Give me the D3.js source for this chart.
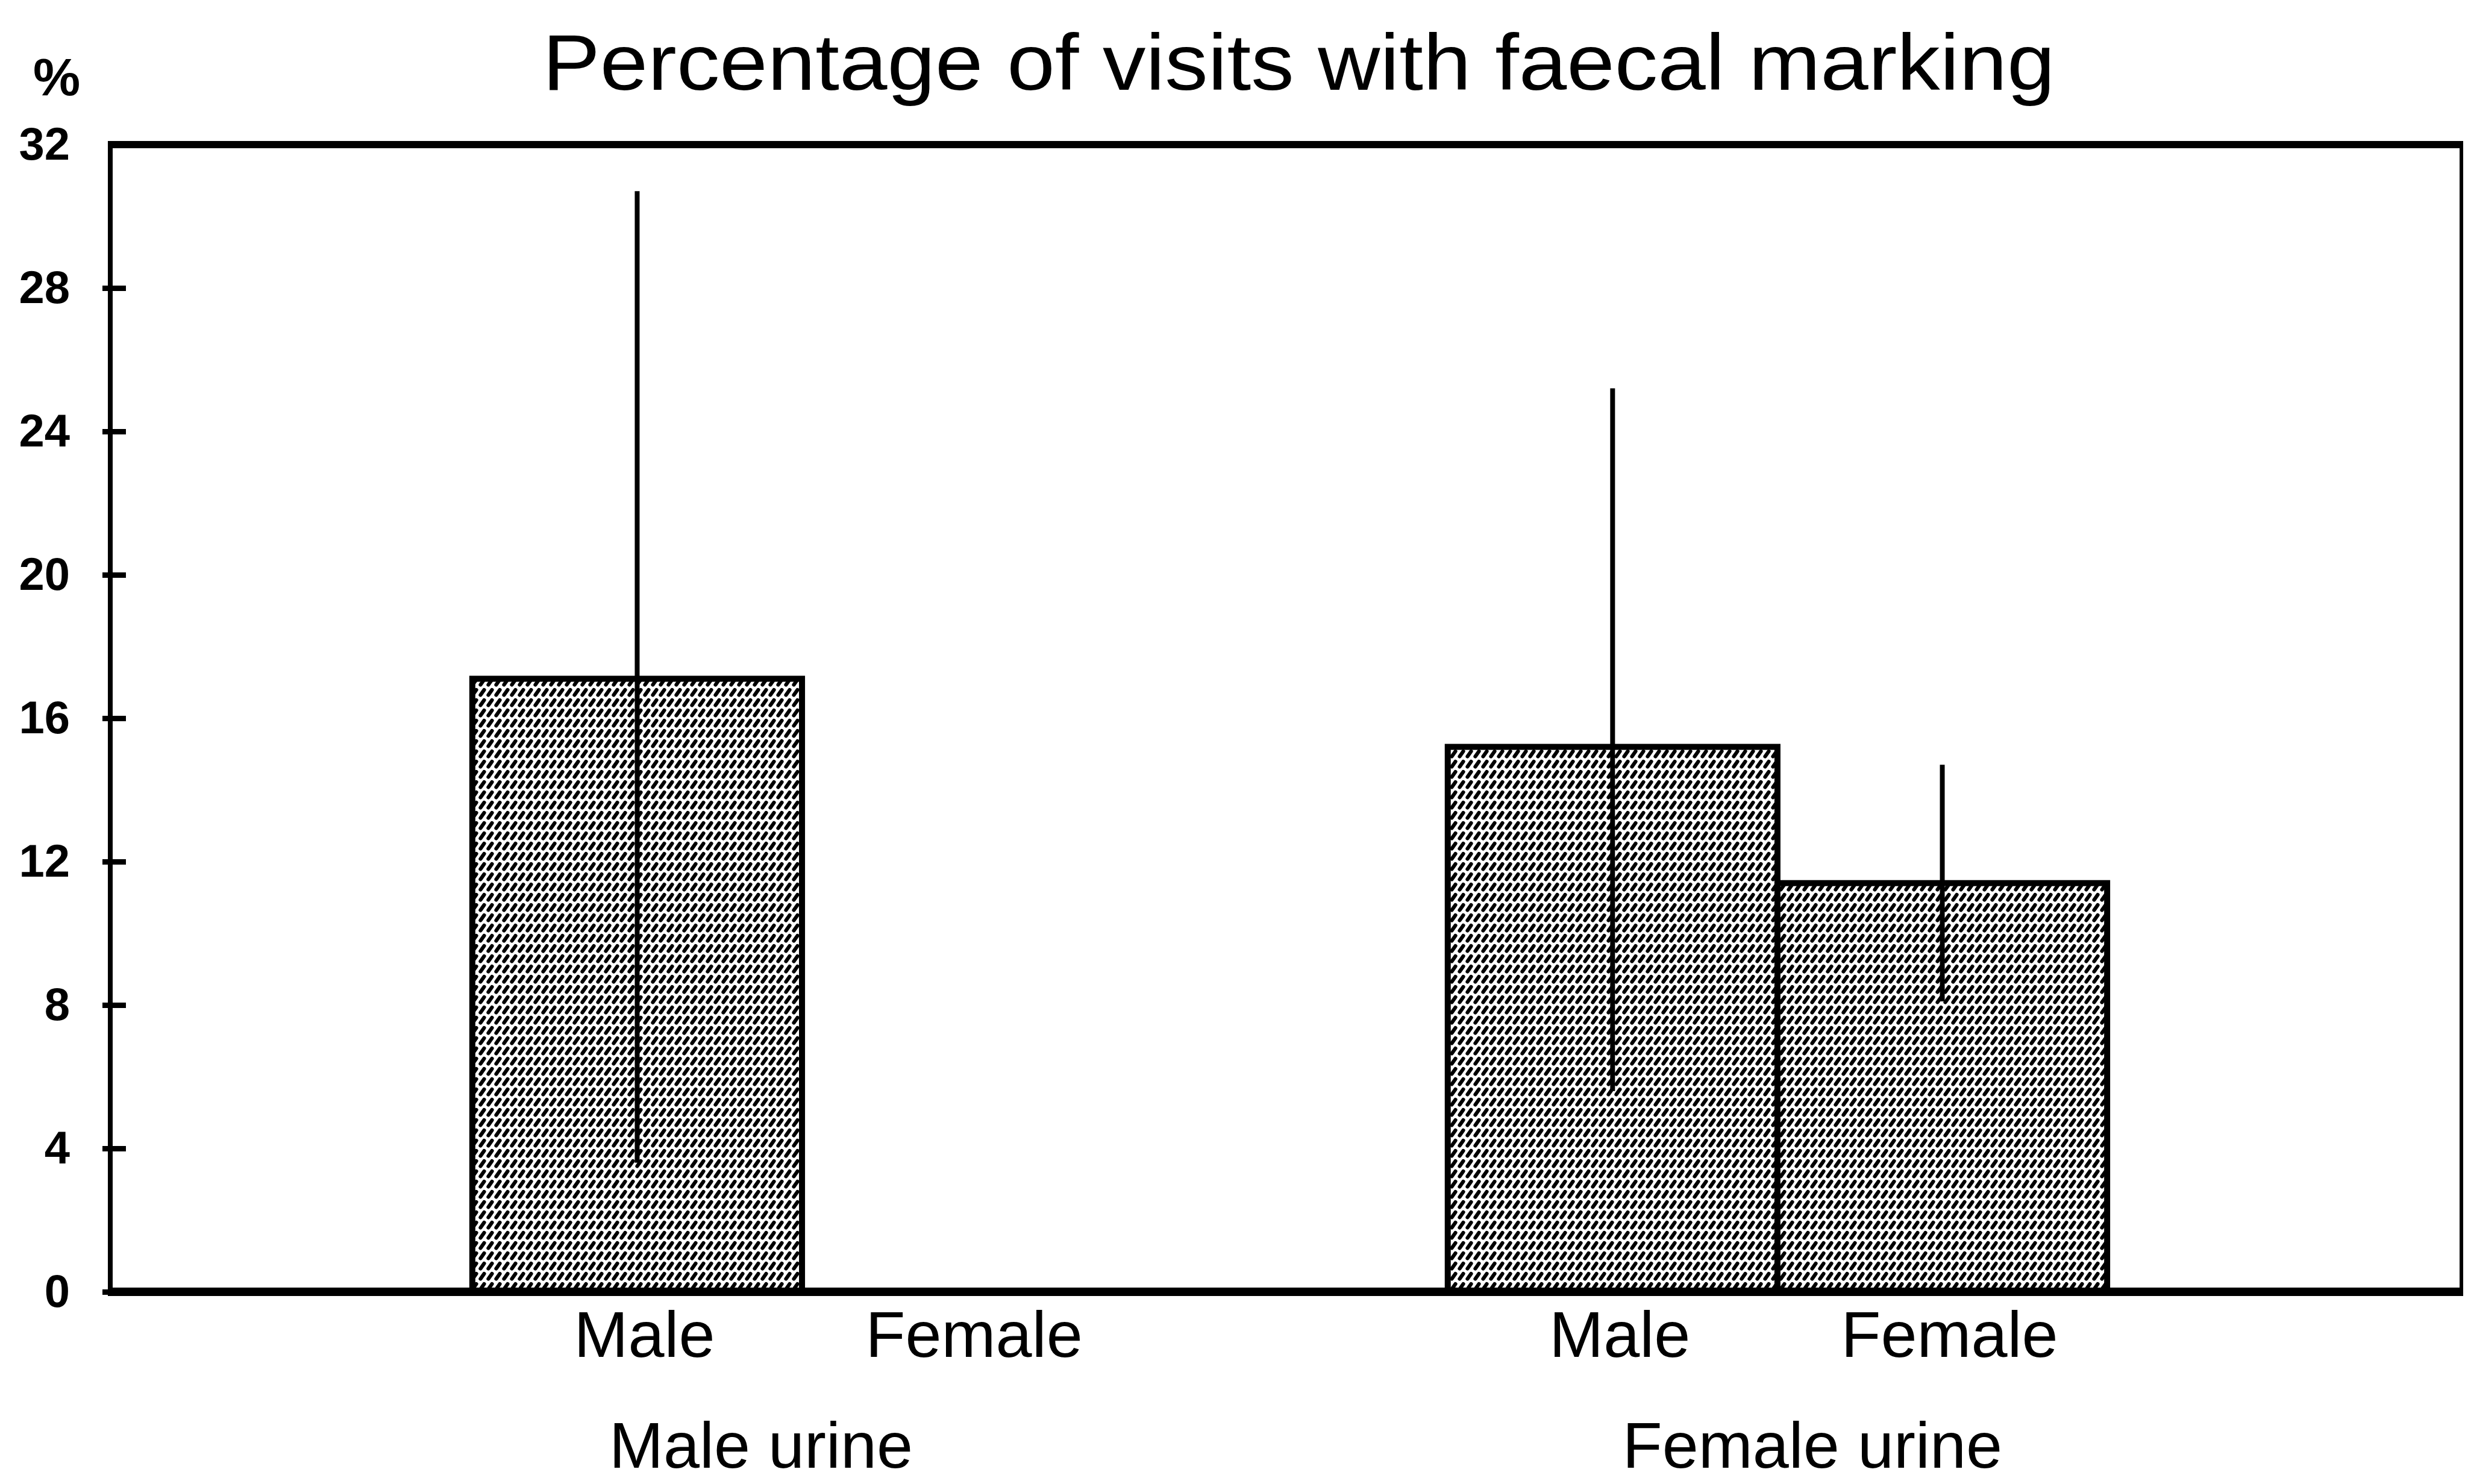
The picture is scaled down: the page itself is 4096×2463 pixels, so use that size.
<!DOCTYPE html>
<html>
<head>
<meta charset="utf-8">
<script src="https://cdn.jsdelivr.net/npm/d3@7"></script>
<style>
    html, body { margin: 0; padding: 0; background: #fff; }
    svg { display: block; font-family: 'Liberation Sans', Arial, sans-serif; }
</style>
</head>
<body>
<svg id="chart" width="4096" height="2463"></svg>
<script>
// DATA
const groups = ['Male urine', 'Female urine'];
const sexes = ['Male', 'Female'];
const meanPct = [[17.1, null], [15.2, 11.4]];
const errLow = [[3.6, null], [5.6, 8.1]];
const errHigh = [[30.7, null], [25.2, 14.7]];
const yTicks = [0, 4, 8, 12, 16, 20, 24, 28, 32];
const title = 'Percentage of visits with faecal marking';

class BarChart {
    constructor(parentElement) {
        this.parentElement = parentElement;
        this.initVis();
    }

    initVis() {
        let vis = this;

        vis.svg = d3.select(vis.parentElement);

        // MARGINS
        vis.margin = { top: 240, right: 8, bottom: 319, left: 183 };
        vis.width = +vis.svg.attr('width') - vis.margin.left - vis.margin.right;
        vis.height = +vis.svg.attr('height') - vis.margin.top - vis.margin.bottom;

        vis.g = vis.svg
            .append('g')
            .attr('transform', `translate(${vis.margin.left},${vis.margin.top})`);

        // PATTERN (the printed grey screen: rows of short slanted dashes)
        let pat = vis.svg.append('defs')
            .append('pattern')
            .attr('id', 'screen')
            .attr('patternUnits', 'userSpaceOnUse')
            .attr('width', 13)
            .attr('height', 17);
        pat.append('rect').attr('width', 13).attr('height', 17).attr('fill', '#fff');
        pat.append('path')
            .attr('d', 'M3.5,12.5 L9.5,4')
            .attr('stroke', '#000')
            .attr('stroke-width', 6.2)
            .attr('stroke-linecap', 'round');

        // SCALES
        vis.x0 = d3.scaleBand()
            .domain(groups)
            .range([10, vis.width])
            .paddingInner(0.324)
            .paddingOuter(0.365);
        vis.x1 = d3.scaleBand()
            .domain(sexes)
            .range([0, vis.x0.bandwidth()])
            .padding(0);
        vis.xCaption = d3.scalePoint()
            .domain(groups)
            .range([0, vis.width])
            .padding(0.619);
        vis.y = d3.scaleLinear().domain([0, 32]).range([vis.height, 0]);

        vis.wrangleData();
    }

    wrangleData() {
        let vis = this;
        vis.rows = [];
        groups.forEach((grp, gi) => {
            sexes.forEach((sex, si) => {
                vis.rows.push({
                    group: grp,
                    sex: sex,
                    mean: meanPct[gi][si],
                    lo: errLow[gi][si],
                    hi: errHigh[gi][si]
                });
            });
        });
        vis.updateVis();
    }

    updateVis() {
        let vis = this;
        const xPos = d => vis.x0(d.group) + vis.x1(d.sex);
        const xMid = d => xPos(d) + vis.x1.bandwidth() / 2;
        const bars = vis.rows.filter(d => d.mean !== null);

        // TITLE
        vis.svg.append('text')
            .attr('x', vis.margin.left + vis.width / 2 + 20)
            .attr('y', 149)
            .attr('text-anchor', 'middle')
            .attr('font-size', 132)
            .attr('textLength', 2510)
            .attr('lengthAdjust', 'spacingAndGlyphs')
            .text(title);

        vis.svg.append('text')
            .attr('x', 94)
            .attr('y', 158)
            .attr('text-anchor', 'middle')
            .attr('font-size', 88)
            .attr('font-weight', 'bold')
            .text('%');

        // BARS
        vis.g.selectAll('rect.bar')
            .data(bars)
            .enter()
            .append('rect')
            .attr('class', 'bar')
            .attr('x', d => xPos(d))
            .attr('y', d => vis.y(d.mean))
            .attr('width', vis.x1.bandwidth())
            .attr('height', d => vis.height - vis.y(d.mean))
            .attr('fill', 'url(#screen)')
            .attr('stroke', '#000')
            .attr('stroke-width', 10);

        // ERROR LINES
        vis.g.selectAll('line.err')
            .data(bars)
            .enter()
            .append('line')
            .attr('class', 'err')
            .attr('x1', d => xMid(d))
            .attr('x2', d => xMid(d))
            .attr('y1', d => vis.y(d.hi))
            .attr('y2', d => vis.y(d.lo))
            .attr('stroke', '#000')
            .attr('stroke-width', 8);

        // FRAME
        vis.g.append('line')
            .attr('x1', vis.width - 3).attr('x2', vis.width - 3)
            .attr('y1', vis.y(32)).attr('y2', vis.y(0))
            .attr('stroke', '#000').attr('stroke-width', 6);
        vis.g.append('line')
            .attr('x1', 0).attr('x2', 0)
            .attr('y1', vis.y(32)).attr('y2', vis.y(0))
            .attr('stroke', '#000').attr('stroke-width', 8);
        vis.g.append('line')
            .attr('x1', -4).attr('x2', vis.width)
            .attr('y1', vis.y(0)).attr('y2', vis.y(0))
            .attr('stroke', '#000').attr('stroke-width', 14);
        vis.g.append('line')
            .attr('x1', -4).attr('x2', vis.width)
            .attr('y1', vis.y(32)).attr('y2', vis.y(32))
            .attr('stroke', '#000').attr('stroke-width', 12);

        // Y AXIS
        vis.yAxis = vis.g.append('g')
            .call(d3.axisLeft(vis.y).tickValues(yTicks).tickSize(13).tickPadding(54));
        vis.yAxis.select('.domain').remove();
        vis.yAxis.selectAll('.tick line')
            .attr('x1', 26)
            .attr('x2', -13)
            .attr('stroke-width', 9);
        vis.yAxis.selectAll('.tick')
            .filter(d => d === 32)
            .select('line')
            .remove();
        vis.yAxis.selectAll('.tick text')
            .attr('font-family', "'Liberation Sans', Arial, sans-serif")
            .attr('font-size', 76)
            .attr('font-weight', 'bold')
            .attr('fill', '#000');

        // X LABELS
        vis.g.selectAll('text.sex')
            .data(vis.rows)
            .enter()
            .append('text')
            .attr('class', 'sex')
            .attr('x', d => xMid(d) + 12)
            .attr('y', vis.height + 108)
            .attr('text-anchor', 'middle')
            .attr('font-size', 108)
            .text(d => d.sex);

        vis.g.selectAll('text.group')
            .data(groups)
            .enter()
            .append('text')
            .attr('class', 'group')
            .attr('x', d => vis.xCaption(d))
            .attr('y', vis.height + 292)
            .attr('text-anchor', 'middle')
            .attr('font-size', 108)
            .text(d => d);
    }
}

new BarChart('#chart');
</script>
</body>
</html>
